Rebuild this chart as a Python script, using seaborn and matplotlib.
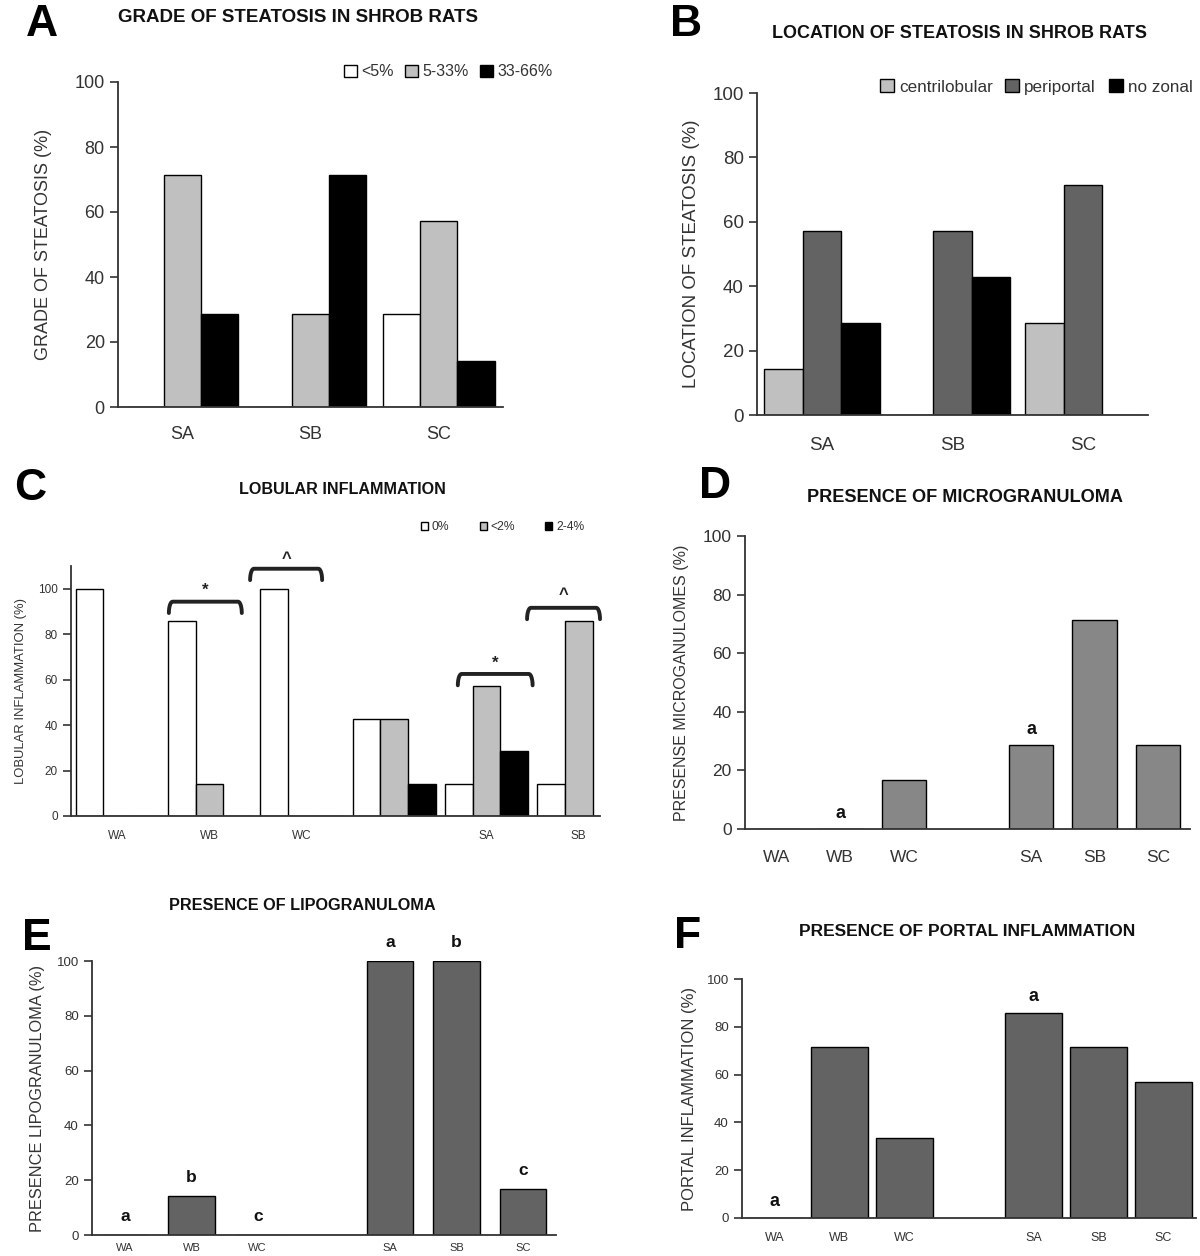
import matplotlib
matplotlib.use("Agg")
import matplotlib.pyplot as plt
import numpy as np
import pandas as pd
import seaborn as sns
from matplotlib.patches import Patch

# ---- data ----
steat_groups = ["SA", "SB", "SC"]
grade_levels = ["<5%", "5-33%", "33-66%"]
grade_lt5 = [0, 0, 28.6]
grade_5_33 = [71.4, 28.6, 57.1]
grade_33_66 = [28.6, 71.4, 14.3]

loc_levels = ["centrilobular", "periportal", "no zonal"]
loc_centri = [14.3, 0, 28.6]
loc_peri = [57.1, 57.1, 71.4]
loc_nozonal = [28.6, 42.9, 0]

lob_groups = ["WA", "WB", "WC", "", "SA", "SB"]
lob_levels = ["0%", "<2%", "2-4%"]
lob_0 = [100, 85.7, 100, 42.9, 14.3, 14.3]
lob_lt2 = [0, 14.3, 0, 42.9, 57.1, 85.7]
lob_2_4 = [0, 0, 0, 14.3, 28.6, 0]

all_groups = ["WA", "WB", "WC", "", "SA", "SB", "SC"]
micro = [0, 0, 16.7, np.nan, 28.6, 71.4, 28.6]
lipo = [0, 14.3, 0, np.nan, 100, 100, 16.7]
portal = [0, 71.4, 33.3, np.nan, 85.7, 71.4, 57.1]

micro_letters = {"WB": "a", "SA": "a"}
lipo_letters = {"WA": "a", "WB": "b", "WC": "c", "SA": "a", "SB": "b", "SC": "c"}
portal_letters = {"WA": "a", "SA": "a"}

W, H = 1200, 1256
sns.set_theme(style="white")
plt.rcParams["font.family"] = ["Liberation Sans", "DejaVu Sans"]
TXT = "#333333"

fig = plt.figure(figsize=(W / 100, H / 100), dpi=100)


def add_ax(x0, x1, ytop, ybot):
    return fig.add_axes([x0 / W, 1 - ybot / H, (x1 - x0) / W, (ybot - ytop) / H])


def long_df(groups, levels, series):
    rows = []
    for lev, vals in zip(levels, series):
        for g, v in zip(groups, vals):
            rows.append({"group": g, "level": lev, "value": v})
    return pd.DataFrame(rows)


def style(ax, groups, ymax, yfs, xfs, xpad, xlim=None):
    n = len(groups)
    for s in ["top", "right"]:
        ax.spines[s].set_visible(False)
    for s in ["left", "bottom"]:
        ax.spines[s].set_color(TXT)
        ax.spines[s].set_linewidth(1.3)
    ax.set_ylim(0, ymax)
    ax.set_yticks(np.arange(0, 101, 20))
    ax.set_xticks(range(n))
    ax.set_xticklabels(groups)
    ax.set_xticks(np.arange(-0.5, n, 1), minor=True)
    ax.set_xlim(xlim if xlim else (-0.5, n - 0.5))
    ax.tick_params(axis="x", which="major", length=0, labelsize=xfs, pad=xpad, colors=TXT)
    ax.tick_params(axis="x", which="minor", length=6, width=1.2, color=TXT, direction="out")
    ax.tick_params(axis="y", length=6, width=1.2, color=TXT, labelsize=yfs, labelcolor=TXT,
                   direction="out", left=True)
    ax.set_xlabel("")
    ax.grid(False)


def legend(ax, colors, labels, x, y, fs, hl, cs):
    ax.legend(handles=[Patch(facecolor=c, edgecolor="black", label=l) for c, l in zip(colors, labels)],
              loc="center left", bbox_to_anchor=(x / W, 1 - y / H), bbox_transform=fig.transFigure,
              ncol=3, frameon=False, fontsize=fs, handlelength=hl, handleheight=hl,
              handletextpad=0.3, columnspacing=cs, borderpad=0, borderaxespad=0, labelcolor=TXT)


# ---- A ----
axA = add_ax(118, 503, 82, 407)
dfA = long_df(steat_groups, grade_levels, [grade_lt5, grade_5_33, grade_33_66])
colA = ["white", "#c0c0c0", "black"]
sns.barplot(data=dfA, x="group", y="value", hue="level", order=steat_groups,
            hue_order=grade_levels, palette=colA, width=0.87, saturation=1,
            edgecolor="black", linewidth=1, legend=False, ax=axA)
style(axA, steat_groups, 100, 13, 13, 14)
axA.set_ylabel("GRADE OF STEATOSIS (%)", fontsize=13, color=TXT, labelpad=16)
legend(axA, colA, grade_levels, 344, 72, 11.5, 0.8, 0.7)

# ---- B ----
axB = add_ax(757, 1148, 93, 415)
dfB = long_df(steat_groups, loc_levels, [loc_centri, loc_peri, loc_nozonal])
colB = ["#c0c0c0", "#636363", "black"]
sns.barplot(data=dfB, x="group", y="value", hue="level", order=steat_groups,
            hue_order=loc_levels, palette=colB, width=0.885, saturation=1,
            edgecolor="black", linewidth=1, legend=False, ax=axB)
style(axB, steat_groups, 100, 13.5, 13.5, 16)
axB.set_ylabel("LOCATION OF STEATOSIS (%)", fontsize=13.5, color=TXT, labelpad=9)
legend(axB, colB, loc_levels, 880, 87, 12.3, 0.8, 0.75)

# ---- C ----
axC = add_ax(71, 600, 566, 816)
dfC = long_df(lob_groups, lob_levels, [lob_0, lob_lt2, lob_2_4])
colC = ["white", "#c0c0c0", "black"]
sns.barplot(data=dfC, x="group", y="value", hue="level", order=lob_groups,
            hue_order=lob_levels, palette=colC, width=0.9, saturation=1,
            edgecolor="black", linewidth=1, legend=False, ax=axC)
style(axC, lob_groups, 110, 8.5, 8.5, 10, xlim=(-0.5, 5.23))
axC.set_ylabel("LOBULAR INFLAMMATION (%)", fontsize=9.4, color=TXT, labelpad=8)
legend(axC, colC, lob_levels, 421, 527, 8.7, 0.6, 2.5)


def bracket(ax, x0, x1, ytop, depth, mark, mark_y):
    r = 0.04
    t = np.linspace(0, np.pi / 2, 8)
    lx = x0 + r - r * np.cos(t)
    ly = ytop - depth + depth * np.sin(t)
    rx = x1 - r + r * np.cos(t[::-1])
    ry = ytop - depth + depth * np.sin(t[::-1])
    xs = np.concatenate([lx, rx])
    ys = np.concatenate([ly, ry])
    ax.plot(xs, ys, color="#222222", lw=2.8, clip_on=False, solid_capstyle="round")
    ax.text((x0 + x1) / 2, mark_y, mark, ha="center", va="center", fontsize=12,
            fontweight="bold", color="#222222", clip_on=False)


bracket(axC, 0.56, 1.35, 94.3, 5, "*", 99.5)
bracket(axC, 1.44, 2.22, 108.8, 5, "^", 113.5)
bracket(axC, 3.69, 4.50, 62.5, 5, "*", 67)
bracket(axC, 4.44, 5.23, 91.6, 5, "^", 97.5)

# ---- D, E, F ----


def single(ax, vals, color, width, letters, off, lfs):
    df = pd.DataFrame({"group": all_groups, "value": vals}).dropna()
    sns.barplot(data=df, x="group", y="value", order=all_groups, color=color,
                width=width, saturation=1, edgecolor="black", linewidth=1, ax=ax)
    for g, lab in letters.items():
        i = all_groups.index(g)
        v = vals[i]
        ax.text(i, v + off, lab, ha="center", va="bottom", fontsize=lfs,
                fontweight="bold", color="#111111", clip_on=False)


axD = add_ax(745, 1190, 536, 829)
single(axD, micro, "#878787", 0.7, micro_letters, 2.5, 13)
style(axD, all_groups, 100, 12.5, 12.5, 15)
axD.set_ylabel("PRESENSE MICROGANULOMES (%)", fontsize=11.5, color=TXT, labelpad=10)

axE = add_ax(92, 556, 961, 1235)
single(axE, lipo, "#636363", 0.7, lipo_letters, 4, 12.5)
style(axE, all_groups, 100, 9.5, 8, 6)
axE.set_ylabel("PRESENCE LIPOGRANULOMA (%)", fontsize=11.8, color=TXT, labelpad=8)

axF = add_ax(742, 1196, 979, 1218)
single(axF, portal, "#636363", 0.88, portal_letters, 3.5, 13)
style(axF, all_groups, 100, 9.5, 9, 10)
axF.set_ylabel("PORTAL INFLAMMATION (%)", fontsize=12, color=TXT, labelpad=7)

# ---- titles and panel letters ----
titles = [
    (298, 18, "GRADE OF STEATOSIS IN SHROB RATS", 13.5),
    (959, 33, "LOCATION OF STEATOSIS IN SHROB RATS", 13),
    (342, 490, "LOBULAR INFLAMMATION", 11.6),
    (965, 497, "PRESENCE OF MICROGRANULOMA", 13.1),
    (302, 905, "PRESENCE OF LIPOGRANULOMA", 11.7),
    (967, 931, "PRESENCE OF PORTAL INFLAMMATION", 12.5),
]
for x, y, t, fs in titles:
    fig.text(x / W, 1 - y / H, t, ha="center", va="center", fontsize=fs,
             fontweight="bold", color="#111111")

letters = [(42, 24, "A"), (686, 24, "B"), (30, 488, "C"), (715, 487, "D"),
           (37, 938, "E"), (688, 937, "F")]
for x, y, t in letters:
    fig.text(x / W, 1 - y / H, t, ha="center", va="center", fontsize=32,
             fontweight="bold", color="black")

fig.savefig("out.png", dpi=100)
